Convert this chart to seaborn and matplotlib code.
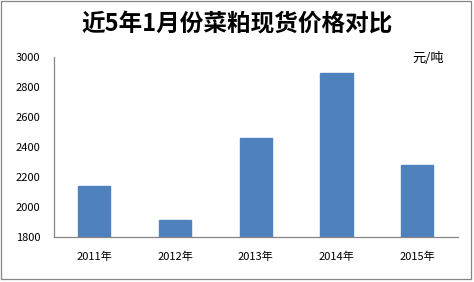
import matplotlib
matplotlib.use("Agg")
import matplotlib.pyplot as plt
import seaborn as sns
import pandas as pd
from matplotlib.patches import Rectangle

years = ["2011年", "2012年", "2013年", "2014年", "2015年"]
prices = [2140, 1912, 2460, 2895, 2280]
yticks = [1800, 2000, 2200, 2400, 2600, 2800, 3000]
title = "近5年1月份菜粕现货价格对比"
unit = "元/吨"

sns.set_theme(style="white")
plt.rcParams['font.family'] = ['Noto Sans CJK SC', 'DejaVu Sans']

df = pd.DataFrame({"year": years, "price": prices})

fig = plt.figure(figsize=(4.74, 2.82), dpi=100)
ax = fig.add_axes([54/474, 1 - 236.7/282, (457.5-54)/474, (236.7-57.3)/282])
sns.barplot(data=df, x="year", y="price", color="#4F81BD", saturation=1,
            width=0.4, edgecolor="#4F81BD", ax=ax)
ax.set_ylim(1800, 3000)
ax.set_yticks(yticks)
ax.set_yticklabels([str(v) for v in yticks], fontsize=8, color="#000000")
ax.tick_params(axis='x', labelsize=8, length=0, pad=11, colors="#000000")
ax.tick_params(axis='y', length=0, pad=10)
ax.set_xlabel("")
ax.set_ylabel("")
for s in ["top", "right"]:
    ax.spines[s].set_visible(False)
for s in ["left", "bottom"]:
    ax.spines[s].set_color("#868686")
    ax.spines[s].set_linewidth(0.9)

fig.text(237/474, 1 - 24/282, title, ha="center", va="center", fontsize=17,
         fontweight="bold", color="#000000")
fig.text(428/474, 1 - 58/282, unit, ha="center", va="center", fontsize=9.5, color="#000000")

fig.patches.append(Rectangle((1/474, 3/282), 470/474, 278/282, transform=fig.transFigure,
                             fill=False, edgecolor="#868686", linewidth=0.9))

fig.savefig("out.png", dpi=100)
